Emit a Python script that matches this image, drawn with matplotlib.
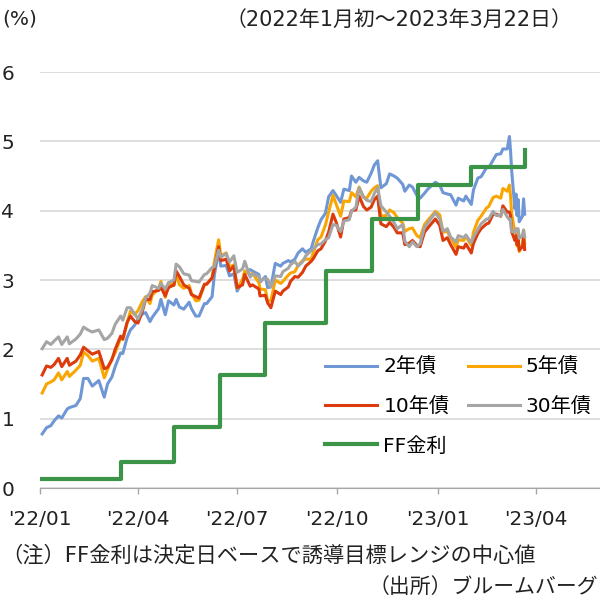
import pandas as pd
import matplotlib
matplotlib.use("Agg")
import matplotlib.pyplot as plt
import matplotlib.dates as mdates

# Verdana-like latin glyphs, CJK falls back to Noto
plt.rcParams['font.family'] = ['DejaVu Sans', 'Noto Sans CJK JP']

# US Treasury yields (%)
dates = [
    '2022-01-03', '2022-01-07', '2022-01-11', '2022-01-14', '2022-01-18', '2022-01-21',
    '2022-01-26', '2022-01-28', '2022-02-03', '2022-02-07', '2022-02-10', '2022-02-14',
    '2022-02-18', '2022-02-24', '2022-03-01', '2022-03-04', '2022-03-08', '2022-03-11',
    '2022-03-16', '2022-03-18', '2022-03-22', '2022-03-25', '2022-03-29', '2022-04-01',
    '2022-04-05', '2022-04-08', '2022-04-12', '2022-04-14', '2022-04-20', '2022-04-22',
    '2022-04-26', '2022-04-29', '2022-05-04', '2022-05-06', '2022-05-09', '2022-05-13',
    '2022-05-18', '2022-05-20', '2022-05-24', '2022-05-27', '2022-06-01', '2022-06-03',
    '2022-06-08', '2022-06-10', '2022-06-14', '2022-06-16', '2022-06-21', '2022-06-24',
    '2022-06-28', '2022-07-01', '2022-07-06', '2022-07-08', '2022-07-13', '2022-07-15',
    '2022-07-21', '2022-07-22', '2022-07-27', '2022-07-29', '2022-08-01', '2022-08-05',
    '2022-08-10', '2022-08-12', '2022-08-17', '2022-08-19', '2022-08-23', '2022-08-26',
    '2022-08-30', '2022-09-02', '2022-09-07', '2022-09-09', '2022-09-13', '2022-09-16',
    '2022-09-20', '2022-09-23', '2022-09-27', '2022-09-30', '2022-10-04', '2022-10-07',
    '2022-10-12', '2022-10-14', '2022-10-18', '2022-10-21', '2022-10-25', '2022-10-28',
    '2022-11-01', '2022-11-04', '2022-11-07', '2022-11-10', '2022-11-15', '2022-11-18',
    '2022-11-22', '2022-11-25', '2022-11-30', '2022-12-02', '2022-12-06', '2022-12-09',
    '2022-12-13', '2022-12-16', '2022-12-20', '2022-12-23', '2022-12-30', '2023-01-03',
    '2023-01-06', '2023-01-10', '2023-01-13', '2023-01-18', '2023-01-20', '2023-01-25',
    '2023-01-27', '2023-02-01', '2023-02-03', '2023-02-07', '2023-02-10', '2023-02-15',
    '2023-02-17', '2023-02-21', '2023-02-24', '2023-02-28', '2023-03-02', '2023-03-06',
    '2023-03-08', '2023-03-09', '2023-03-10', '2023-03-13', '2023-03-14', '2023-03-15',
    '2023-03-16', '2023-03-17', '2023-03-20', '2023-03-21', '2023-03-22',
]

y2 = [
    0.78, 0.87, 0.90, 0.97, 1.04, 1.01, 1.14, 1.16, 1.19, 1.29, 1.58, 1.58,
    1.47, 1.55, 1.31, 1.50, 1.60, 1.75, 1.95, 1.94, 2.17, 2.28, 2.35, 2.44,
    2.51, 2.53, 2.40, 2.46, 2.59, 2.72, 2.50, 2.70, 2.64, 2.72, 2.61, 2.58,
    2.68, 2.59, 2.48, 2.48, 2.66, 2.66, 2.76, 3.06, 3.43, 3.20, 3.21, 3.06,
    3.09, 2.84, 2.98, 3.11, 3.15, 3.13, 3.08, 2.97, 3.05, 2.89, 2.90, 3.24,
    3.20, 3.24, 3.28, 3.26, 3.30, 3.39, 3.45, 3.40, 3.45, 3.56, 3.75, 3.87,
    3.96, 4.20, 4.29, 4.22, 4.12, 4.31, 4.29, 4.50, 4.41, 4.48, 4.43, 4.41,
    4.54, 4.66, 4.72, 4.33, 4.39, 4.53, 4.50, 4.47, 4.38, 4.28, 4.37, 4.34,
    4.22, 4.18, 4.25, 4.31, 4.41, 4.37, 4.26, 4.24, 4.23, 4.08, 4.18, 4.14,
    4.21, 4.09, 4.30, 4.47, 4.49, 4.62, 4.62, 4.73, 4.81, 4.82, 4.89, 4.89,
    5.07, 4.87, 4.59, 4.03, 4.24, 3.93, 4.16, 3.84, 3.92, 4.17, 3.95,
]

y5 = [
    1.37, 1.50, 1.53, 1.56, 1.66, 1.56, 1.68, 1.61, 1.70, 1.77, 1.96, 1.91,
    1.83, 1.87, 1.59, 1.71, 1.86, 1.95, 2.16, 2.14, 2.38, 2.55, 2.50, 2.56,
    2.69, 2.76, 2.66, 2.78, 2.88, 2.98, 2.75, 2.96, 2.92, 3.08, 2.93, 2.88,
    2.92, 2.81, 2.70, 2.71, 2.93, 2.94, 3.03, 3.25, 3.58, 3.35, 3.39, 3.18,
    3.22, 2.88, 3.01, 3.13, 3.07, 3.10, 2.96, 2.87, 2.86, 2.70, 2.70, 3.00,
    2.95, 2.98, 3.07, 3.10, 3.12, 3.21, 3.28, 3.30, 3.30, 3.40, 3.58, 3.62,
    3.79, 3.98, 4.22, 4.09, 3.92, 4.14, 4.13, 4.26, 4.20, 4.34, 4.19, 4.18,
    4.28, 4.33, 4.36, 3.92, 3.93, 4.01, 3.97, 3.90, 3.82, 3.70, 3.74, 3.75,
    3.64, 3.61, 3.80, 3.86, 3.99, 3.94, 3.69, 3.70, 3.61, 3.47, 3.58, 3.57,
    3.63, 3.50, 3.69, 3.86, 3.92, 4.04, 4.06, 4.19, 4.21, 4.18, 4.32, 4.28,
    4.37, 4.22, 3.96, 3.69, 3.73, 3.49, 3.65, 3.41, 3.51, 3.72, 3.52,
]

y10 = [
    1.63, 1.76, 1.74, 1.78, 1.87, 1.75, 1.87, 1.77, 1.83, 1.92, 2.03, 1.98,
    1.93, 1.97, 1.72, 1.74, 1.85, 2.00, 2.19, 2.15, 2.39, 2.48, 2.40, 2.38,
    2.55, 2.72, 2.72, 2.83, 2.85, 2.90, 2.77, 2.89, 2.93, 3.13, 3.05, 2.93,
    2.88, 2.79, 2.76, 2.74, 2.94, 2.94, 3.03, 3.16, 3.48, 3.28, 3.30, 3.13,
    3.20, 2.89, 2.93, 3.08, 2.91, 2.93, 2.87, 2.77, 2.78, 2.67, 2.60, 2.84,
    2.79, 2.84, 2.90, 2.98, 3.05, 3.04, 3.11, 3.20, 3.27, 3.31, 3.42, 3.45,
    3.56, 3.69, 3.95, 3.83, 3.62, 3.88, 3.90, 4.00, 4.01, 4.21, 4.06, 4.01,
    4.05, 4.16, 4.21, 3.81, 3.77, 3.83, 3.76, 3.68, 3.68, 3.51, 3.53, 3.57,
    3.50, 3.48, 3.69, 3.75, 3.88, 3.79, 3.57, 3.61, 3.51, 3.37, 3.48, 3.46,
    3.52, 3.39, 3.53, 3.67, 3.74, 3.81, 3.82, 3.95, 3.95, 3.92, 4.07, 3.98,
    3.98, 3.93, 3.70, 3.57, 3.64, 3.51, 3.58, 3.43, 3.48, 3.61, 3.44,
]

y30 = [
    2.01, 2.11, 2.07, 2.12, 2.18, 2.07, 2.18, 2.08, 2.15, 2.22, 2.32, 2.28,
    2.25, 2.28, 2.14, 2.16, 2.23, 2.36, 2.48, 2.42, 2.60, 2.60, 2.51, 2.44,
    2.58, 2.74, 2.81, 2.92, 2.88, 2.95, 2.87, 2.96, 3.00, 3.23, 3.19, 3.09,
    3.07, 2.99, 2.98, 2.97, 3.08, 3.09, 3.18, 3.19, 3.43, 3.33, 3.38, 3.26,
    3.35, 3.11, 3.16, 3.27, 3.04, 3.09, 3.05, 2.99, 3.02, 3.01, 2.90, 3.06,
    3.05, 3.12, 3.17, 3.22, 3.27, 3.20, 3.26, 3.35, 3.42, 3.45, 3.51, 3.52,
    3.58, 3.61, 3.80, 3.79, 3.70, 3.85, 3.87, 3.99, 4.05, 4.33, 4.20, 4.15,
    4.13, 4.25, 4.33, 4.07, 3.98, 3.92, 3.83, 3.74, 3.80, 3.56, 3.48, 3.55,
    3.48, 3.52, 3.76, 3.82, 3.97, 3.88, 3.70, 3.74, 3.62, 3.55, 3.64, 3.61,
    3.65, 3.54, 3.62, 3.73, 3.81, 3.88, 3.88, 3.99, 3.93, 3.93, 4.02, 3.91,
    3.87, 3.88, 3.70, 3.69, 3.74, 3.73, 3.74, 3.60, 3.65, 3.72, 3.62,
]

# FF rate (mid-point of target range) on decision dates
ff_dates = ['2022-01-03', '2022-03-16', '2022-05-04', '2022-06-15', '2022-07-27',
            '2022-09-21', '2022-11-02', '2022-12-14', '2023-02-01', '2023-03-22']
ff_rate = [0.125, 0.375, 0.875, 1.625, 2.375, 3.125, 3.875, 4.375, 4.625, 4.875]

labels = ['2年債', '5年債', '10年債', '30年債', 'FF金利']
colors = ['#6F97D5', '#F9A603', '#DB3B0D', '#A5A5A5', '#3C9448']

FS = 14.5
TXT = '#222222'

x = pd.to_datetime(dates)
xf = pd.to_datetime(ff_dates)

fig = plt.figure(figsize=(6, 6), dpi=100)
ax = fig.add_axes([40 / 600, 112 / 600, 562 / 600, 416 / 600])

lines = []
for vals, lab, c in zip([y2, y5, y10, y30], labels[:4], colors[:4]):
    ln, = ax.plot(x, vals, color=c, lw=2.2, label=lab, solid_joinstyle='round')
    lines.append(ln)
ln, = ax.plot(xf, ff_rate, color=colors[4], lw=3, drawstyle='steps-post', label=labels[4])
lines.append(ln)

ax.set_ylim(0, 6)
ax.set_yticks(range(0, 7))
ax.set_xlim(pd.Timestamp('2022-01-01'), pd.Timestamp('2022-01-01') + pd.Timedelta(days=516))
ax.xaxis.set_major_locator(mdates.MonthLocator(bymonth=[1, 4, 7, 10]))
ax.xaxis.set_major_formatter(mdates.DateFormatter("'%y/%m"))

ax.grid(axis='y', color='#D4D4D4', lw=1.1)
ax.set_axisbelow(True)
for s in ['top', 'right', 'left']:
    ax.spines[s].set_visible(False)
ax.spines['bottom'].set_color('#A6A6A6')
ax.tick_params(axis='y', length=0, pad=18.5, labelsize=FS, colors=TXT)
ax.tick_params(axis='x', length=4, width=1, color='#A6A6A6', pad=12, labelsize=FS,
               labelcolor=TXT)

# legend laid out row by row: 2年債 5年債 / 10年債 30年債 / FF金利
order = [0, 2, 4, 1, 3]
fig.legend([lines[i] for i in order], [labels[i] for i in order], ncol=2,
           loc='upper left', bbox_to_anchor=(325 / 600, 1 - 358 / 600),
           frameon=False, fontsize=FS, handlelength=2.6, handletextpad=0.3,
           columnspacing=0.9, labelspacing=1.0, borderpad=0, borderaxespad=0)

fig.text(2 / 600, 1 - 19 / 600, '(%)', fontsize=FS, ha='left', va='center', color=TXT)
fig.text(226 / 600, 1 - 20 / 600, '（2022年1月初～2023年3月22日）', fontsize=15,
         ha='left', va='center', color=TXT)
fig.text(1 / 600, 1 - 555 / 600, '（注）FF金利は決定日ベースで誘導目標レンジの中心値',
         fontsize=15.3, ha='left', va='center', color=TXT)
fig.text(598 / 600, 1 - 587 / 600, '（出所）ブルームバーグ', fontsize=15,
         ha='right', va='center', color=TXT)

fig.savefig('out.png', dpi=100)
